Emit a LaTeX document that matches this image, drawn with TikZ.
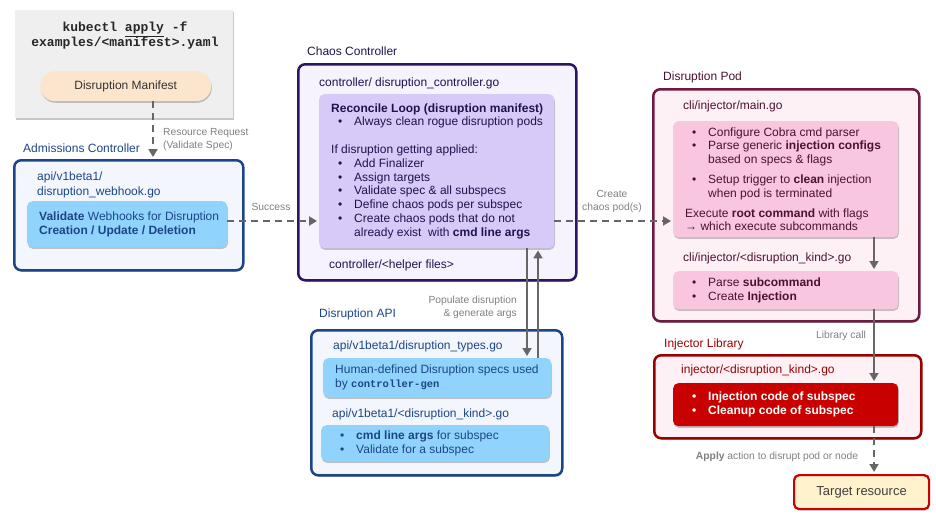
\documentclass[tikz,border=0pt]{standalone}
\usepackage{fontspec}
\setmainfont{Liberation Sans}
\setmonofont{Liberation Mono}
\usetikzlibrary{arrows.meta,shadows,positioning}

\definecolor{cmdgray}{HTML}{EFEFEF}
\definecolor{peach}{HTML}{FCE5CD}
\definecolor{admblue}{HTML}{1C4587}
\definecolor{admfill}{HTML}{F3F7FD}
\definecolor{skyblue}{HTML}{90D4FD}
\definecolor{chaospurple}{HTML}{2B1463}
\definecolor{chaosink}{HTML}{20124D}
\definecolor{chaosfill}{HTML}{F6F3FE}
\definecolor{lavender}{HTML}{D8CAF8}
\definecolor{podmaroon}{HTML}{6E1A42}
\definecolor{podink}{HTML}{4C1130}
\definecolor{podfill}{HTML}{FDF1F6}
\definecolor{podpink}{HTML}{F9C6DF}
\definecolor{injred}{HTML}{990000}
\definecolor{codered}{HTML}{C80000}
\definecolor{targetred}{HTML}{CC0000}
\definecolor{targetfill}{HTML}{FFF2CC}
\definecolor{linkgray}{HTML}{666666}
\definecolor{notegray}{HTML}{808080}

\newcommand{\fs}[2]{\fontsize{#1}{#2}\selectfont}
\newcommand{\itm}[1]{\hspace*{7pt}\makebox[16pt][l]{\textbullet}#1}
\newcommand{\cont}{\hspace*{23pt}}

\tikzset{
  soft/.style={drop shadow={shadow xshift=0.6pt, shadow yshift=-1.6pt, opacity=0.22, fill=black}},
  groupbox/.style={draw, line width=2.5pt, rounded corners=7pt, anchor=north west, inner sep=0pt, soft},
  cardbox/.style={rounded corners=5pt, anchor=north west, inner sep=0pt, soft},
  cardtext/.style={align=left, inner sep=0pt, font=\fs{12}{13.8}},
  tagtext/.style={anchor=base west, inner sep=0pt, font=\fs{12}{14}},
  notetext/.style={text=notegray, inner sep=0pt, font=\fs{10.3}{13}},
  flowline/.style={draw=linkgray, line width=1.8pt, shorten >=2pt, -{Triangle[length=8pt,width=9pt]}},
  dashline/.style={flowline, dash pattern=on 7pt off 5pt}
}

\begin{document}
\begin{tikzpicture}[x=1pt,y=-1pt]
\useasboundingbox (0,0) rectangle (936,522);

% kubectl command + manifest
\node[cardbox, fill=cmdgray, rounded corners=0pt, minimum width=218, minimum height=108] (cmd) at (15,10) {};
\node[font=\ttfamily\bfseries\fs{13}{15}, align=center, inner sep=0pt, text=black!85] (cmd-txt) at (125,36)
  {kubectl \underline{apply} -f\\examples/<manifest>.yaml};
\node[cardbox, fill=peach, rounded corners=15pt, minimum width=171, minimum height=30, font=\fs{12}{14}, text=black!80] (manifest) at (40,71) {Disruption Manifest};

% Admissions Controller
\node[groupbox, draw=admblue, fill=admfill, minimum width=229, minimum height=110] (adm) at (13,159) {};
\node[tagtext, text=admblue] (adm-lbl) at (23,152) {Admissions Controller};
\node[tagtext, text=admblue] (adm-file) at (37,180) {api/v1beta1/};
\node[tagtext, text=admblue] (adm-file2) at (37,195) {disruption\_webhook.go};
\node[cardbox, fill=skyblue, minimum width=200, minimum height=46] (valid) at (27,201) {};
\node[cardtext, text=admblue, right=12pt of valid.west] (valid-txt)
  {\textbf{Validate} Webhooks for Disruption\\\textbf{Creation / Update / Deletion}};

% Chaos Controller
\node[groupbox, draw=chaospurple, fill=chaosfill, minimum width=278, minimum height=216] (chaos) at (297,63) {};
\node[tagtext, text=chaosink] (chaos-lbl) at (307,55) {Chaos Controller};
\node[tagtext, text=chaosink] (chaos-file) at (319,86) {controller/ disruption\_controller.go};
\node[cardbox, fill=lavender, minimum width=235, minimum height=154] (reconcile) at (319,94) {};
\node[cardtext, text=chaosink, right=12pt of reconcile.west] (reconcile-txt)
  {\textbf{Reconcile Loop (disruption manifest)}\\
   \itm{Always clean rogue disruption pods}\\[13.8pt]
   If disruption getting applied:\\
   \itm{Add Finalizer}\\
   \itm{Assign targets}\\
   \itm{Validate spec \& all subspecs}\\
   \itm{Define chaos pods per subspec}\\
   \itm{Create chaos pods that do not}\\
   \cont already exist\ \ with \textbf{cmd line args}};
\node[tagtext, text=chaosink] (chaos-helper) at (329,268) {controller/<helper files>};

% Disruption API
\node[groupbox, draw=admblue, fill=admfill, minimum width=251, minimum height=145] (api) at (310,329) {};
\node[tagtext, text=admblue] (api-lbl) at (319,317) {Disruption API};
\node[tagtext, text=admblue] (api-file) at (333,349) {api/v1beta1/disruption\_types.go};
\node[cardbox, fill=skyblue, minimum width=228, minimum height=39] (spec) at (323,358) {};
\node[cardtext, text=admblue, right=12pt of spec.west] (spec-txt)
  {Human-defined Disruption specs used\\by {\ttfamily\bfseries\fs{10.5}{13.8}controller-gen}};
\node[tagtext, text=admblue] (api-file2) at (332,417) {api/v1beta1/<disruption\_kind>.go};
\node[cardbox, fill=skyblue, minimum width=228, minimum height=36] (kind) at (321,425) {};
\node[cardtext, text=admblue, right=12pt of kind.west] (kind-txt)
  {\itm{\textbf{cmd line args} for subspec}\\\itm{Validate for a subspec}};

% Disruption Pod
\node[groupbox, draw=podmaroon, fill=podfill, minimum width=266, minimum height=232] (pod) at (652,88) {};
\node[tagtext, text=podink] (pod-lbl) at (663,80) {Disruption Pod};
\node[tagtext, text=podink] (pod-file) at (683,109) {cli/injector/main.go};
\node[cardbox, fill=podpink, minimum width=225, minimum height=116] (podmain) at (673,121) {};
\node[cardtext, text=podink, right=12pt of podmain.west] (podmain-txt)
  {\itm{Configure Cobra cmd parser}\\
   \itm{Parse generic \textbf{injection configs}}\\
   \cont based on specs \& flags\\[6pt]
   \itm{Setup trigger to \textbf{clean} injection}\\
   \cont when pod is terminated\\[6pt]
   Execute \textbf{root command} with flags\\
   → which execute subcommands};
\node[tagtext, text=podink] (pod-file2) at (683,261) {cli/injector/<disruption\_kind>.go};
\node[cardbox, fill=podpink, minimum width=225, minimum height=38] (podkind) at (673,271) {};
\node[cardtext, text=podink, right=12pt of podkind.west] (podkind-txt)
  {\itm{Parse \textbf{subcommand}}\\\itm{Create \textbf{Injection}}};

% Injector Library
\node[groupbox, draw=injred, fill=podfill, minimum width=267, minimum height=83] (lib) at (653,354) {};
\node[tagtext, text=injred] (lib-lbl) at (664,347) {Injector Library};
\node[tagtext, text=injred] (lib-file) at (681,373) {injector/<disruption\_kind>.go};
\node[cardbox, fill=codered, minimum width=225, minimum height=43] (inject) at (673,383) {};
\node[cardtext, text=white, font=\bfseries\fs{12}{13.8}, right=12pt of inject.west] (inject-txt)
  {\itm{Injection code of subspec}\\\itm{Cleanup code of subspec}};

% target
\node[cardbox, draw=targetred, line width=2.2pt, fill=targetfill, minimum width=135, minimum height=34, font=\fs{13}{15}, text=black!75] (target) at (793,474) {Target resource};

% connectors
\coordinate (request) at (153,0);
\coordinate (lane) at (0,221);
\coordinate (popdown) at (527,0);
\coordinate (popup) at (538,0);
\coordinate (libcall) at (874,0);

\draw[dashline] (manifest.south -| request) -- (adm.north -| request);
\draw[dashline] (valid.east |- lane) -- (reconcile.west |- lane);
\draw[dashline] (reconcile.east |- lane) -- (podmain.west |- lane);
\draw[flowline] (reconcile.south -| popdown) -- (spec.north -| popdown);
\draw[flowline] (spec.north -| popup) -- (reconcile.south -| popup);
\draw[flowline] (podmain.south -| libcall) -- (podkind.north -| libcall);
\draw[flowline] (podkind.south -| libcall) -- (inject.north -| libcall);
\draw[dashline] (inject.south -| libcall) -- (target.north -| libcall);

% connector labels
\node[notetext, anchor=west, align=left] (request-note) at (163,139.5) {Resource Request\\(Validate Spec)};
\node[notetext] (success-note) at (271,207) {Success};
\node[notetext, align=center] (create-note) at (612,201) {Create\\chaos pod(s)};
\node[notetext, anchor=east, align=right] (populate-note) at (517,307) {Populate disruption\\\& generate args};
\node[notetext] (libcall-note) at (841,336) {Library call};
\node[notetext] (apply-note) at (777,457) {\textbf{Apply} action to disrupt pod or node};
\end{tikzpicture}
\end{document}
